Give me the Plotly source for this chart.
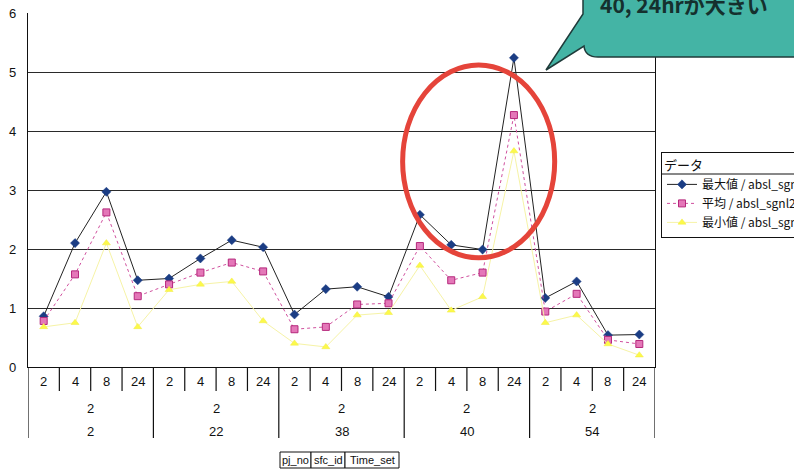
import plotly.graph_objects as go

# --- data -------------------------------------------------------------
pj_no = [2, 22, 38, 40, 54]
sfc_id = [2, 2, 2, 2, 2]
time_set = [2, 4, 8, 24]

max_vals = [0.86, 2.10, 2.97, 1.47,
            1.50, 1.84, 2.15, 2.03,
            0.89, 1.32, 1.36, 1.19,
            2.58, 2.07, 1.99, 5.24,
            1.17, 1.45, 0.54, 0.55]
mean_vals = [0.78, 1.57, 2.62, 1.20,
             1.40, 1.60, 1.77, 1.62,
             0.64, 0.68, 1.06, 1.08,
             2.05, 1.47, 1.60, 4.27,
             0.94, 1.24, 0.46, 0.39]
min_vals = [0.68, 0.75, 2.10, 0.68,
            1.31, 1.40, 1.45, 0.78,
            0.40, 0.34, 0.88, 0.92,
            1.72, 0.96, 1.19, 3.66,
            0.75, 0.88, 0.39, 0.20]

series_names = ["最大値 / absl_sgnl2", "平均 / absl_sgnl2", "最小値 / absl_sgnl2"]
y_ticks = [0, 1, 2, 3, 4, 5, 6]
callout_text = "40, 24hrが大きい"
field_names = ["pj_no", "sfc_id", "Time_set"]

# --- page geometry (pixels) -------------------------------------------
W, H = 794, 470
L, R, T, B = 28, 139, 13, 103
PW, PH = W - L - R, H - T - B


def px(x):
    return (x - L) / PW


def py(y):
    return (H - B - y) / PH


n_groups = len(pj_no)
n_t = len(time_set)
xs = list(range(n_groups * n_t))

FONT = "Liberation Sans, Arial, sans-serif"
JFONT = "Noto Sans CJK JP, sans-serif"

fig = go.Figure()
fig.add_trace(go.Scatter(
    x=xs, y=max_vals, name=series_names[0], mode="lines+markers",
    line=dict(color="#222222", width=1),
    marker=dict(symbol="diamond", size=7, color="#1b3d84",
                line=dict(color="#1b3d84", width=0.5)),
))
fig.add_trace(go.Scatter(
    x=xs, y=mean_vals, name=series_names[1], mode="lines+markers",
    line=dict(color="#d0509e", width=1, dash="dot"),
    marker=dict(symbol="square", size=7, color="#e477b8",
                line=dict(color="#b5287c", width=1)),
))
fig.add_trace(go.Scatter(
    x=xs, y=min_vals, name=series_names[2], mode="lines+markers",
    line=dict(color="#f6f3a6", width=1),
    marker=dict(symbol="triangle-up", size=7, color="#fcf94a",
                line=dict(color="#f0ea40", width=0.5)),
))

shapes = []
annotations = []


def label(x, y, text, xref="paper", size=13, font=FONT):
    annotations.append(dict(
        x=x, y=y, xref=xref, yref="paper", xanchor="center", yanchor="middle",
        text=text, showarrow=False, font=dict(family=font, size=size, color="#111"),
    ))


# category separators under the axis: short between time slots, long between groups
for i in range(len(xs) + 1):
    long_tick = i % n_t == 0
    shapes.append(dict(
        type="line", xref="x", yref="paper",
        x0=i - 0.5, x1=i - 0.5, y0=0, y1=py(438 if long_tick else 391),
        line=dict(color="#111111", width=1.2),
    ))

# three label rows: Time_set / sfc_id / pj_no
for g in range(n_groups):
    for k, t in enumerate(time_set):
        label(g * n_t + k, py(382), str(t), xref="x")
    center = g * n_t + (n_t - 1) / 2
    label(center, py(408), str(sfc_id[g]), xref="x")
    label(center, py(431), str(pj_no[g]), xref="x")

# field name boxes below the chart
cells = [(280, 311), (311, 345), (345, 399)]
for (a, b), name in zip(cells, field_names):
    shapes.append(dict(
        type="rect", xref="paper", yref="paper",
        x0=px(a), x1=px(b), y0=py(468), y1=py(452),
        line=dict(color="#111", width=1), fillcolor="white",
    ))
    label(px((a + b) / 2), py(460), name, size=11)

# red ellipse around the pj_no 40 group
shapes.append(dict(
    type="circle", xref="x", yref="y", layer="above",
    x0=11.45, x1=16.3, y0=1.85, y1=5.12,
    line=dict(color="#e5443a", width=5),
))

# speech bubble with tail pointing at the peak
bubble_px = [("M", 583, -40), ("L", 583, 14), ("L", 546, 70), ("L", 584, 46),
             ("Q", 585, 57, 598, 57), ("L", 810, 57), ("L", 810, -40)]
path = ""
for seg in bubble_px:
    cmd, coords = seg[0], seg[1:]
    pts = []
    for j in range(0, len(coords), 2):
        pts.append(f"{px(coords[j]):.5f},{py(coords[j + 1]):.5f}")
    path += cmd + " " + " ".join(pts) + " "
path += "Z"
shapes.append(dict(
    type="path", xref="paper", yref="paper", path=path, layer="above",
    fillcolor="#44b4a5", line=dict(color="#1f3b3a", width=1.5),
))
annotations.append(dict(
    x=px(684), y=py(21), xref="paper", yref="paper", xanchor="center", yanchor="bottom",
    text=f"<b>{callout_text}</b>", showarrow=False,
    font=dict(family=JFONT, size=21, color="#15302e"),
))

# divider under the legend title
shapes.append(dict(
    type="line", xref="paper", yref="paper", layer="above",
    x0=px(661), x1=px(800), y0=py(174), y1=py(174),
    line=dict(color="#111", width=1),
))

fig.update_layout(
    width=W, height=H,
    margin=dict(l=L, r=R, t=T, b=B, autoexpand=False),
    paper_bgcolor="white", plot_bgcolor="white",
    showlegend=True,
    legend=dict(
        x=px(661), y=py(152), xanchor="left", yanchor="top",
        bgcolor="rgba(0,0,0,0)", bordercolor="#111", borderwidth=1,
        font=dict(family=JFONT, size=12, color="#111"),
        title=dict(text="データ", font=dict(family=JFONT, size=13, color="#111")),
        tracegroupgap=0, itemwidth=30,
    ),
    xaxis=dict(
        range=[-0.5, len(xs) - 0.5], showticklabels=False, ticks="",
        showgrid=False, zeroline=False, showline=True, linecolor="#111",
        linewidth=1.2, mirror=False,
    ),
    yaxis=dict(
        range=[0, 6], tickvals=y_ticks, showgrid=True, gridcolor="#2a2a2a",
        gridwidth=1.2, zeroline=False, showline=True, linecolor="#111",
        linewidth=1.2, mirror=True, ticks="",
        tickfont=dict(family=FONT, size=13, color="#111"), ticklabelstandoff=8,
    ),
    shapes=shapes, annotations=annotations,
)

fig.write_html("out.html")
